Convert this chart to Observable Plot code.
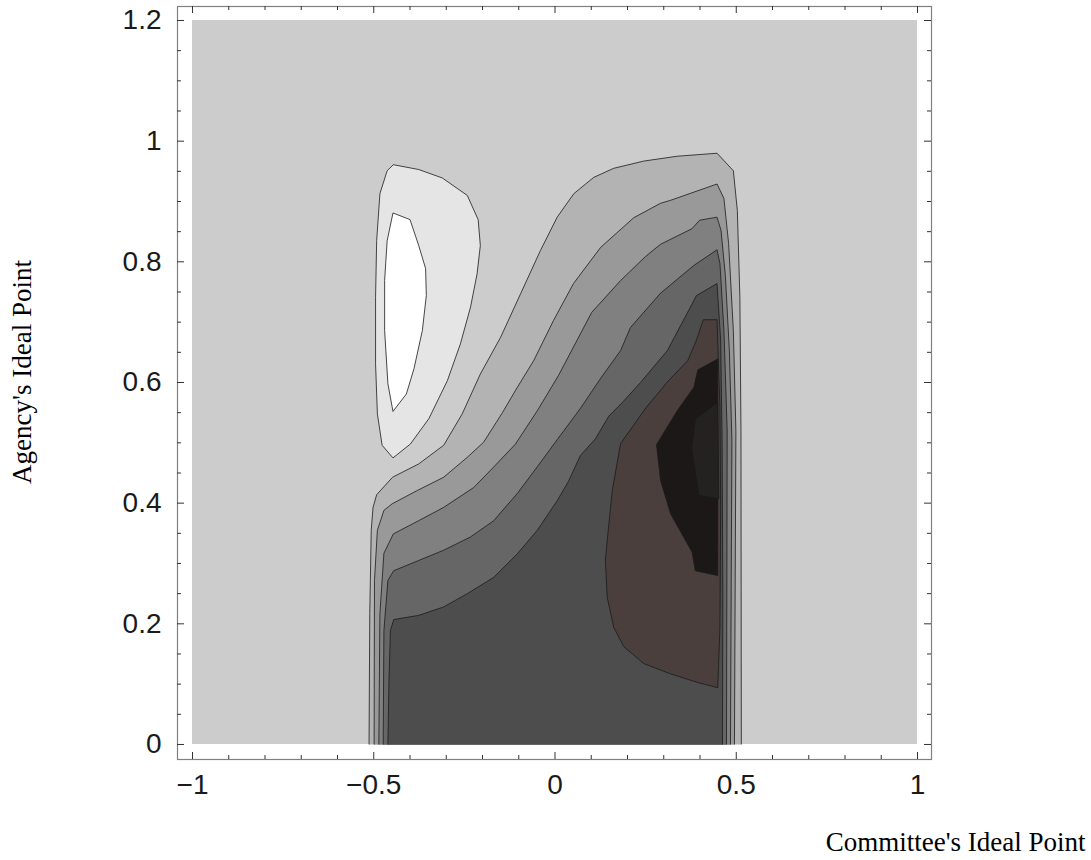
<!DOCTYPE html>
<html>
<head>
<meta charset="utf-8">
<script src="https://cdn.jsdelivr.net/npm/d3@7"></script>
<script src="https://cdn.jsdelivr.net/npm/@observablehq/plot@0.6"></script>
<style>
  html, body { margin: 0; padding: 0; background: #fff; }
</style>
</head>
<body>
<div id="chart"></div>
<script>
// ---------- data ----------
const xDomain = [-1, 1];
const yDomain = [0, 1.2];

const xMajor = [-1, -0.5, 0, 0.5, 1];
const xMajorLabels = ["\u22121", "\u22120.5", "0", "0.5", "1"];
const xMinor = [-0.9, -0.8, -0.7, -0.6, -0.4, -0.3, -0.2, -0.1, 0.1, 0.2, 0.3, 0.4, 0.6, 0.7, 0.8, 0.9];
const yMajor = [0, 0.2, 0.4, 0.6, 0.8, 1, 1.2];
const yMajorLabels = ["0", "0.2", "0.4", "0.6", "0.8", "1", "1.2"];
const yMinor = [0.05, 0.1, 0.15, 0.25, 0.3, 0.35, 0.45, 0.5, 0.55, 0.65, 0.7, 0.75, 0.85, 0.9, 0.95, 1.05, 1.1, 1.15];

const xTitle = "Committee's Ideal Point";
const yTitle = "Agency's Ideal Point";

// contour regions [committee, agency]
const islandOuter = [[-0.446,0.961],[-0.376,0.953],[-0.311,0.939],[-0.242,0.910],[-0.212,0.870],[-0.206,0.827],[-0.215,0.780],[-0.233,0.725],[-0.261,0.664],[-0.297,0.603],[-0.348,0.540],[-0.399,0.498],[-0.447,0.475],[-0.477,0.496],[-0.490,0.548],[-0.495,0.631],[-0.495,0.741],[-0.492,0.835],[-0.483,0.913],[-0.463,0.951],[-0.446,0.961]];
const islandInner = [[-0.447,0.881],[-0.400,0.870],[-0.376,0.827],[-0.357,0.789],[-0.355,0.744],[-0.366,0.686],[-0.389,0.623],[-0.410,0.581],[-0.447,0.552],[-0.461,0.598],[-0.470,0.686],[-0.470,0.769],[-0.463,0.835],[-0.447,0.881]];
const band1 = [[-0.513,0],[-0.511,0.217],[-0.507,0.355],[-0.502,0.393],[-0.492,0.414],[-0.448,0.443],[-0.376,0.465],[-0.307,0.496],[-0.256,0.548],[-0.206,0.614],[-0.150,0.675],[-0.095,0.747],[-0.040,0.819],[0.006,0.874],[0.052,0.913],[0.107,0.940],[0.162,0.955],[0.245,0.967],[0.337,0.975],[0.447,0.980],[0.492,0.951],[0.503,0.885],[0.510,0.741],[0.513,0.520],[0.514,0]];
const band2 = [[-0.499,0],[-0.498,0.272],[-0.490,0.355],[-0.472,0.388],[-0.449,0.399],[-0.380,0.421],[-0.307,0.443],[-0.242,0.476],[-0.197,0.501],[-0.145,0.550],[-0.109,0.587],[-0.059,0.636],[-0.004,0.703],[0.051,0.764],[0.126,0.824],[0.217,0.873],[0.291,0.897],[0.319,0.902],[0.447,0.929],[0.466,0.905],[0.479,0.830],[0.492,0.686],[0.499,0.520],[0.495,0]];
const band3 = [[-0.486,0],[-0.483,0.217],[-0.472,0.317],[-0.446,0.349],[-0.376,0.371],[-0.307,0.393],[-0.224,0.426],[-0.169,0.460],[-0.109,0.498],[-0.048,0.554],[0.010,0.612],[0.101,0.716],[0.181,0.769],[0.250,0.809],[0.291,0.829],[0.378,0.855],[0.399,0.869],[0.447,0.874],[0.458,0.852],[0.470,0.777],[0.481,0.653],[0.488,0.504],[0.484,0]];
const band4 = [[-0.474,0],[-0.472,0.189],[-0.461,0.272],[-0.445,0.288],[-0.376,0.305],[-0.307,0.322],[-0.233,0.344],[-0.169,0.371],[-0.104,0.416],[-0.048,0.461],[0.007,0.506],[0.070,0.557],[0.126,0.607],[0.181,0.653],[0.208,0.691],[0.291,0.748],[0.383,0.794],[0.447,0.820],[0.455,0.797],[0.466,0.686],[0.475,0.520],[0.473,0]];
const band5 = [[-0.461,0],[-0.458,0.106],[-0.454,0.189],[-0.445,0.207],[-0.376,0.214],[-0.307,0.228],[-0.242,0.250],[-0.169,0.277],[-0.104,0.316],[-0.049,0.355],[0.006,0.404],[0.037,0.436],[0.070,0.479],[0.112,0.507],[0.148,0.544],[0.186,0.567],[0.236,0.600],[0.310,0.653],[0.378,0.730],[0.390,0.744],[0.447,0.764],[0.457,0.670],[0.461,0.504],[0.463,0.239],[0.462,0]];
const core1 = [[0.409,0.704],[0.447,0.704],[0.455,0.559],[0.457,0.393],[0.455,0.194],[0.449,0.094],[0.392,0.103],[0.319,0.117],[0.245,0.134],[0.190,0.162],[0.162,0.194],[0.144,0.244],[0.139,0.305],[0.144,0.338],[0.158,0.421],[0.181,0.499],[0.252,0.559],[0.313,0.603],[0.366,0.636],[0.390,0.670],[0.409,0.704]];
const core2 = [[0.449,0.639],[0.394,0.621],[0.383,0.592],[0.338,0.554],[0.280,0.497],[0.291,0.438],[0.319,0.382],[0.378,0.319],[0.387,0.288],[0.449,0.280],[0.449,0.639]];
const core3 = [[0.449,0.567],[0.388,0.540],[0.377,0.493],[0.397,0.413],[0.452,0.407],[0.449,0.567]];

const contourRegions = [islandOuter, islandInner, band1, band2, band3, band4, band5, core1, core2, core3];
const contourFills = ["#e5e5e5", "#ffffff", "#b3b3b3", "#999999", "#808080", "#666666", "#4d4d4d", "#4a3f3c", "#1c1817", "#242220"];

// ---------- layout ----------
const W = 1091, H = 860;
const mL = 177, mR = 160, mT = 6, mB = 101;
const innerW = W - mL - mR, innerH = H - mT - mB;
const majorLen = 7, minorLen = 4;
const sans = "'Liberation Sans', Arial, Helvetica, sans-serif";
const serif = "'Liberation Serif', 'Times New Roman', serif";

const chart = Plot.plot({
  width: W,
  height: H,
  marginLeft: mL,
  marginRight: mR,
  marginTop: mT,
  marginBottom: mB,
  style: {background: "#fff", overflow: "visible"},
  x: {domain: [-1.0414, 1.0386], axis: null},
  y: {domain: [-0.0249, 1.2232], axis: null},
  marks: [
    Plot.rect([0], {x1: xDomain[0], x2: xDomain[1], y1: yDomain[0], y2: yDomain[1], fill: "#cccccc"}),
    ...contourRegions.map((r, i) => Plot.line(r, {
      x: d => d[0], y: d => d[1],
      fill: contourFills[i], stroke: "#1a1a1a", strokeWidth: 0.8,
      strokeLinejoin: "miter", strokeLinecap: "butt"
    })),
    Plot.frame({stroke: "#808080", strokeWidth: 1.2}),
    // ticks, all four sides, pointing inward
    Plot.ruleX(xMajor, {x: d => d, insetTop: innerH - majorLen, stroke: "#333"}),
    Plot.ruleX(xMajor, {x: d => d, insetBottom: innerH - majorLen, stroke: "#333"}),
    Plot.ruleX(xMinor, {x: d => d, insetTop: innerH - minorLen, stroke: "#333"}),
    Plot.ruleX(xMinor, {x: d => d, insetBottom: innerH - minorLen, stroke: "#333"}),
    Plot.ruleY(yMajor, {y: d => d, insetRight: innerW - majorLen, stroke: "#333"}),
    Plot.ruleY(yMajor, {y: d => d, insetLeft: innerW - majorLen, stroke: "#333"}),
    Plot.ruleY(yMinor, {y: d => d, insetRight: innerW - minorLen, stroke: "#333"}),
    Plot.ruleY(yMinor, {y: d => d, insetLeft: innerW - minorLen, stroke: "#333"}),
    // tick labels
    Plot.text(xMajor, {x: d => d, text: (d, i) => xMajorLabels[i], frameAnchor: "bottom", dy: 34,
      fontFamily: sans, fontSize: 28, fill: "#1a1a1a"}),
    Plot.text(yMajor, {y: d => d, text: (d, i) => yMajorLabels[i], frameAnchor: "left", dx: -16, textAnchor: "end",
      fontFamily: sans, fontSize: 28, fill: "#1a1a1a"}),
    // axis titles
    Plot.text([xTitle], {text: d => d, frameAnchor: "bottom-right", dx: 154, dy: 91, textAnchor: "end",
      lineAnchor: "bottom", fontFamily: serif, fontSize: 27, fill: "#000"}),
    Plot.text([yTitle], {text: d => d, frameAnchor: "left", rotate: -90, dx: -147, dy: -11, textAnchor: "middle",
      lineAnchor: "bottom", fontFamily: serif, fontSize: 27, fill: "#000"})
  ]
});
document.getElementById("chart").appendChild(chart);
</script>
</body>
</html>
